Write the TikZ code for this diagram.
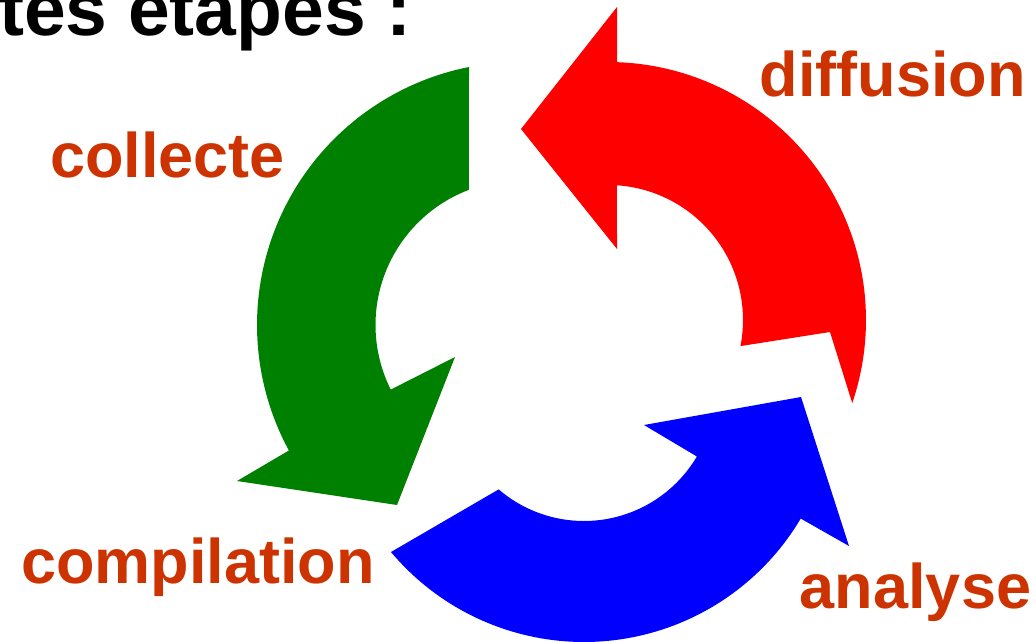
\documentclass[tikz,border=0pt]{standalone}
\usepackage{fontspec}
\setmainfont{Liberation Sans}
\definecolor{labelcol}{HTML}{CC3300}
\definecolor{grn}{HTML}{008000}
\definecolor{rd}{HTML}{FF0000}
\definecolor{bl}{HTML}{0000FF}
\tikzset{
  lbl/.style={text=labelcol, inner sep=0pt, anchor=base, font=\fontsize{63}{70}\selectfont\bfseries},
  ttl/.style={text=black, inner sep=0pt, anchor=base east, font=\fontsize{75}{84}\selectfont\bfseries},
  arr/.style={draw=none}
}
\begin{document}
\begin{tikzpicture}[x=1pt, y=-1pt]
\useasboundingbox (0,0) rectangle (1036,642);
% title
\node[ttl] (title) at (412,36) {tes étapes :};
% green arrow (collecte -> compilation)
\fill[grn, arr] (469,67)
  -- plot[domain=258.8:151.5, samples=80, variable=\t] ({520+263*cos(\t)},{325+263*sin(\t)})
  -- (237,481) -- (397,505) -- (455,357)
  -- plot[domain=153.45:249.3, samples=80, variable=\t] ({520+144.5*cos(\t)},{325+144.5*sin(\t)})
  -- cycle;
% red arrow (diffusion)
\fill[rd, arr] (521,129) -- (617,7)
  -- plot[domain=-88:18.79, samples=80, variable=\t] ({608+258*cos(\t)},{320+258*sin(\t)})
  -- (830,332)
  -- plot[domain=11.15:-86.19, samples=80, variable=\t] ({608+135*cos(\t)},{320+135*sin(\t)})
  -- (617,249) -- cycle;
% blue arrow (analyse)
\fill[bl, arr] (391,552)
  -- plot[domain=140:30.67, samples=80, variable=\t] ({584+252*cos(\t)},{390+252*sin(\t)})
  -- (849,546) -- (801,397) -- (644,425)
  -- plot[domain=30.5:130.64, samples=80, variable=\t] ({584+131*cos(\t)},{390+131*sin(\t)})
  -- cycle;
% labels
\node[lbl] (diffusion) at (892.5,96) {diffusion};
\node[lbl] (collecte) at (167.5,177) {collecte};
\node[lbl] (compilation) at (198,583) {compilation};
\node[lbl] (analyse) at (915.5,608) {analyse};
\end{tikzpicture}
\end{document}
